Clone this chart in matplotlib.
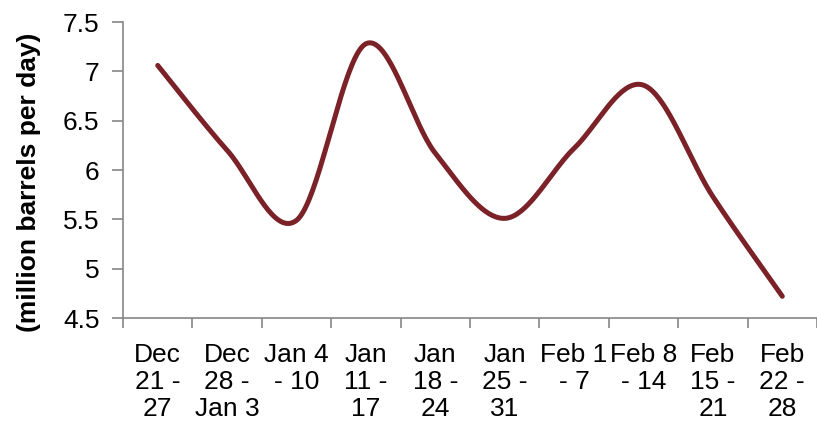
import numpy as np
import matplotlib
matplotlib.use("Agg")
import matplotlib.pyplot as plt
from matplotlib.ticker import FixedLocator

categories = ["Dec\n21 -\n27", "Dec\n28 -\nJan 3", "Jan 4\n- 10", "Jan\n11 -\n17", "Jan\n18 -\n24",
              "Jan\n25 -\n31", "Feb 1\n- 7", "Feb 8\n- 14", "Feb\n15 -\n21", "Feb\n22 -\n28"]
values = [7.06, 6.20, 5.49, 7.28, 6.17, 5.51, 6.22, 6.86, 5.73, 4.72]
y_ticks = [4.5, 5, 5.5, 6, 6.5, 7, 7.5]
y_tick_labels = ["4.5", "5", "5.5", "6", "6.5", "7", "7.5"]
y_label = "(million barrels per day)"

plt.rcParams['font.family'] = ['Liberation Sans', 'DejaVu Sans']

fig = plt.figure(figsize=(8.17, 4.24), dpi=100)
ax = fig.add_axes([0.1506, 0.25, 0.8494, 0.698])

# Excel-style smoothed line (cubic Bezier through the points)
x = np.arange(1, len(values) + 1, dtype=float)
y = np.array(values, dtype=float)
P = np.column_stack([x, y])
Pext = np.vstack([P[0], P, P[-1]])
t = np.linspace(0, 1, 40)[:, None]
curve = []
for i in range(len(P) - 1):
    p0 = Pext[i + 1]
    p3 = Pext[i + 2]
    c1 = p0 + (Pext[i + 2] - Pext[i]) / 6.0
    c2 = p3 - (Pext[i + 3] - Pext[i + 1]) / 6.0
    seg = ((1 - t) ** 3) * p0 + 3 * ((1 - t) ** 2) * t * c1 + 3 * (1 - t) * t ** 2 * c2 + t ** 3 * p3
    curve.append(seg if i == 0 else seg[1:])
curve = np.vstack(curve)
ax.plot(curve[:, 0], curve[:, 1], color="#7B2128", lw=3.6, solid_capstyle="round", solid_joinstyle="round")

ax.set_xlim(0.5, len(values) + 0.5)
ax.set_ylim(4.5, 7.5)
ax.set_yticks(y_ticks)
ax.set_yticklabels(y_tick_labels)
ax.set_xticks(x)
ax.set_xticklabels(categories, linespacing=1.15)
ax.xaxis.set_minor_locator(FixedLocator(np.arange(0.5, len(values) + 0.6, 1.0)))

for s in ["top", "right"]:
    ax.spines[s].set_visible(False)
for s in ["left", "bottom"]:
    ax.spines[s].set_color("#868686")
    ax.spines[s].set_linewidth(1.2)

ax.tick_params(axis="y", which="major", direction="out", length=8, width=1.2, color="#868686",
               labelsize=19, pad=9, labelcolor="black")
ax.tick_params(axis="x", which="major", length=0, labelsize=19, pad=18, labelcolor="black")
ax.tick_params(axis="x", which="minor", direction="out", length=7, width=1.2, color="#868686")

ax.set_ylabel(y_label, fontsize=19, fontweight="bold")
ax.yaxis.set_label_coords(-0.118, 0.457)

fig.savefig("out.png", dpi=100)
